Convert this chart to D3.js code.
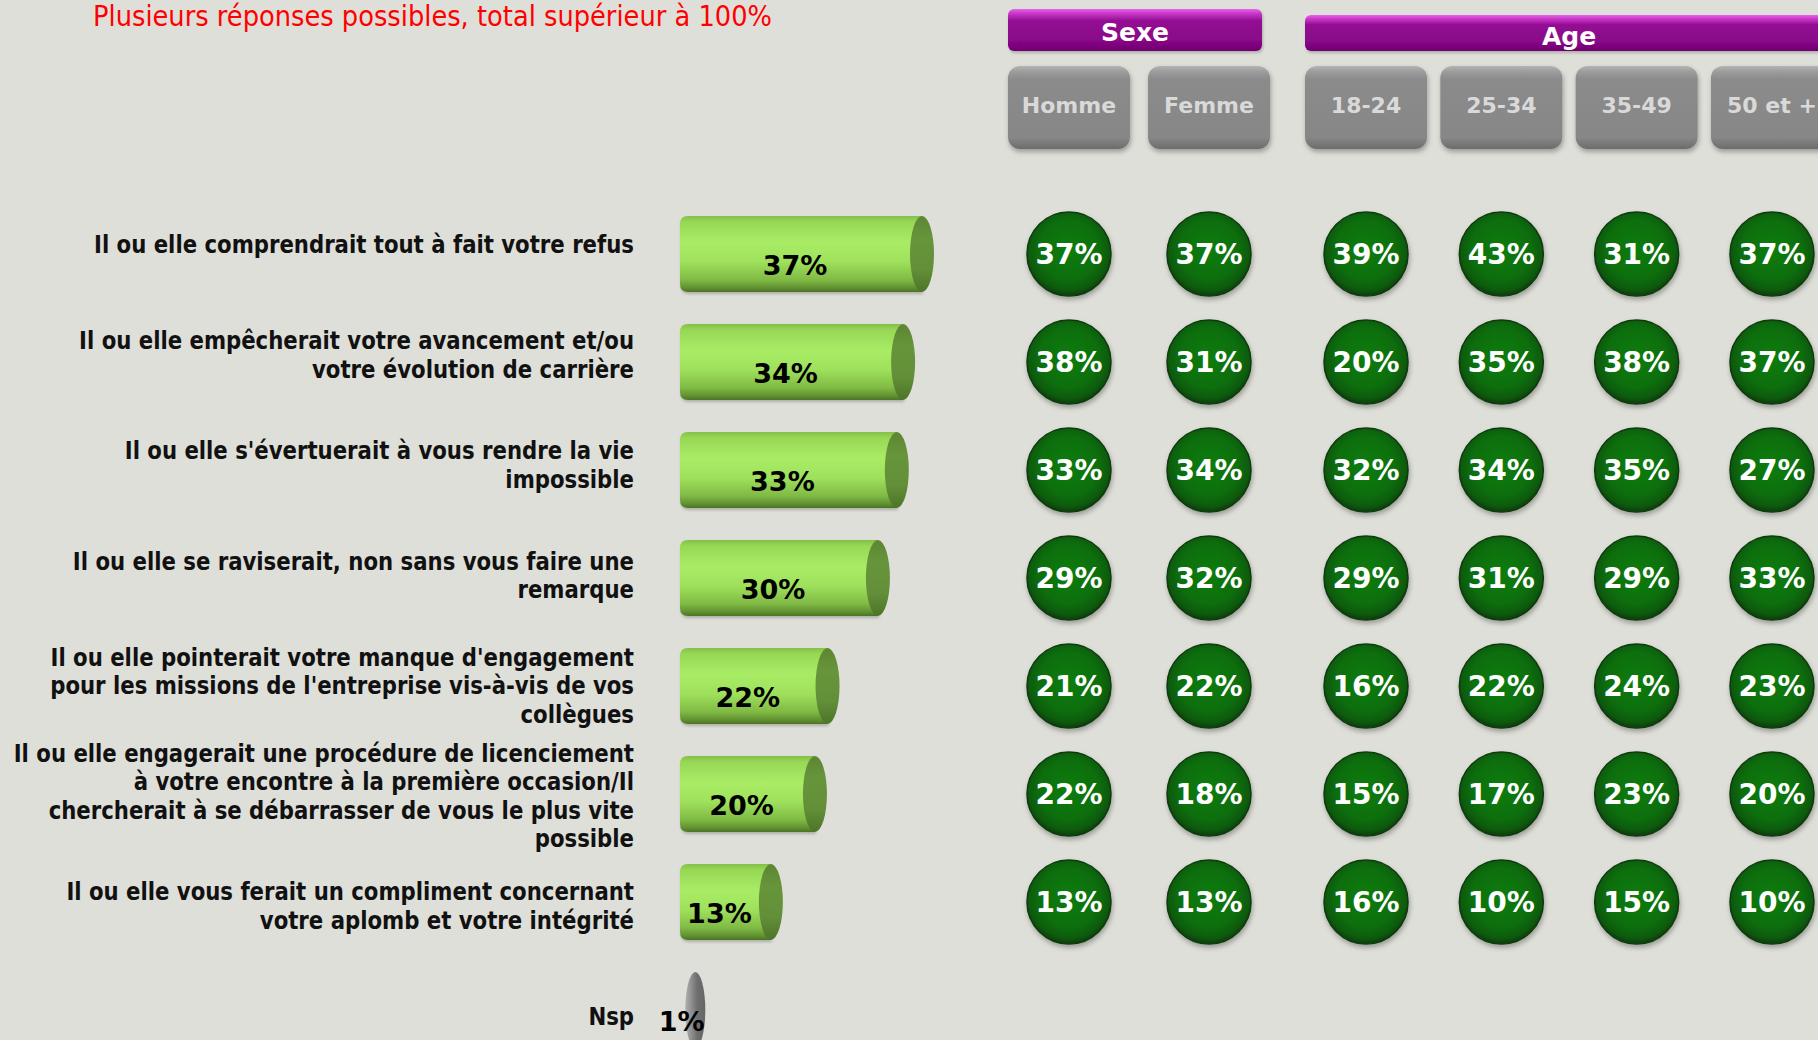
<!DOCTYPE html>
<html>
<head>
<meta charset="utf-8">
<script src="https://cdn.jsdelivr.net/npm/d3@7/dist/d3.min.js"></script>
<style>
  html, body { margin: 0; padding: 0; background: #dfdfd9; overflow: hidden; }
  svg { display: block; }
</style>
</head>
<body>
<div id="chart"></div>
<script>
const W = 1818, H = 1040;

// Data
const title = "Plusieurs réponses possibles, total supérieur à 100%";
const labels = [
  "Il ou elle comprendrait tout à fait votre refus",
  "Il ou elle empêcherait votre avancement et/ou\nvotre évolution de carrière",
  "Il ou elle s'évertuerait à vous rendre la vie\nimpossible",
  "Il ou elle se raviserait, non sans vous faire une\nremarque",
  "Il ou elle pointerait votre manque d'engagement\npour les missions de l'entreprise vis-à-vis de vos\ncollègues",
  "Il ou elle engagerait une procédure de licenciement\nà votre encontre à la première occasion/Il\nchercherait à se débarrasser de vous le plus vite\npossible",
  "Il ou elle vous ferait un compliment concernant\nvotre aplomb et votre intégrité",
  "Nsp"
];
const totals = [37, 34, 33, 30, 22, 20, 13, 1];

const sexeTitle = "Sexe";
const ageTitle = "Age";
const sexeCols = ["Homme", "Femme"];
const ageCols = ["18-24", "25-34", "35-49", "50 et +"];

const homme   = [37, 38, 33, 29, 21, 22, 13];
const femme   = [37, 31, 34, 32, 22, 18, 13];
const age1824 = [39, 20, 32, 29, 16, 15, 16];
const age2534 = [43, 35, 34, 31, 22, 17, 10];
const age3549 = [31, 38, 35, 29, 24, 23, 15];
const age50   = [37, 37, 27, 33, 23, 20, 10];

const sexeValues = [homme, femme];
const ageValues = [age1824, age2534, age3549, age50];

const FONT = "'DejaVu Sans', Verdana, sans-serif";

const svg = d3.select("#chart")
  .append("svg")
  .attr("width", W)
  .attr("height", H);

svg.append("rect").attr("width", W).attr("height", H).attr("fill", "#dfdfd9");

// Gradients and shadows
const defs = svg.append("defs");

function linearGrad(id, stops, vertical = true) {
  const g = defs.append("linearGradient").attr("id", id)
    .attr("x1", 0).attr("y1", 0)
    .attr("x2", vertical ? 0 : 1).attr("y2", vertical ? 1 : 0);
  stops.forEach(s => g.append("stop").attr("offset", s[0]).attr("stop-color", s[1]));
}

linearGrad("barBody", [[0, "#84c049"], [0.08, "#97d856"], [0.35, "#a9ec65"], [0.6, "#9fe15c"], [0.84, "#80ba44"], [0.95, "#5f8f30"], [1, "#4b7325"]]);
linearGrad("barCap", [[0, "#5c8632"], [0.3, "#67953b"], [0.7, "#628f38"], [1, "#4d7428"]]);
linearGrad("purple", [[0, "#e466e4"], [0.1, "#cc3acc"], [0.28, "#930d93"], [0.8, "#860686"], [1, "#6c056c"]]);
linearGrad("grayBtn", [[0, "#b4b4b4"], [0.07, "#9c9c9c"], [0.16, "#8b8b8b"], [0.86, "#878787"], [1, "#6c6c6c"]]);
linearGrad("nspCap", [[0, "#b0b0b0"], [0.35, "#8a8a8a"], [0.6, "#6e6e6e"], [1, "#666"]], false);

const rg = defs.append("radialGradient").attr("id", "ball")
  .attr("cx", "50%").attr("cy", "45%").attr("r", "55%");
[[0, "#0d7d0d"], [0.65, "#0b6e0b"], [0.88, "#095a09"], [1, "#0b3b0b"]]
  .forEach(s => rg.append("stop").attr("offset", s[0]).attr("stop-color", s[1]));

const shadow = defs.append("filter").attr("id", "shadow")
  .attr("x", "-20%").attr("y", "-20%").attr("width", "150%").attr("height", "160%");
shadow.append("feDropShadow").attr("dx", 1).attr("dy", 3).attr("stdDeviation", 2.5)
  .attr("flood-color", "#000").attr("flood-opacity", 0.3);

const softShadow = defs.append("filter").attr("id", "softShadow")
  .attr("x", "-10%").attr("y", "-20%").attr("width", "130%").attr("height", "150%");
softShadow.append("feDropShadow").attr("dx", 1).attr("dy", 2).attr("stdDeviation", 1.5)
  .attr("flood-color", "#000").attr("flood-opacity", 0.22);

// Scales
const rows = d3.range(labels.length);
const y = d3.scalePoint().domain(rows).range([254, 1010]);
const yLabel = d3.scalePoint().domain(rows).range([253, 1025]);
const x = d3.scaleLinear().domain([0, 37]).range([689, 922]);
const barLeft = 680;
const barH = 76;
const capRx = 12;

const xSexe = d3.scaleBand().domain(sexeCols).range([1008, 1270]).paddingInner(0.129);
const xAge = d3.scaleBand().domain(ageCols).range([1305, 1833]).paddingInner(0.098);

// Title
svg.append("text")
  .attr("x", 93)
  .attr("y", 26)
  .attr("font-family", FONT)
  .attr("font-size", "28px")
  .attr("fill", "#ff0000")
  .attr("textLength", 679)
  .attr("lengthAdjust", "spacingAndGlyphs")
  .text(title);

// Row labels
const labelG = svg.append("g");
rows.forEach(i => {
  const lines = labels[i].split("\n");
  const lh = 28.5;
  const base = yLabel(i) - (lines.length - 1) * lh / 2;
  const t = labelG.append("text")
    .attr("transform", `translate(634, ${base}) scale(0.885, 1)`)
    .attr("font-family", FONT)
    .attr("font-size", "24px")
    .attr("font-weight", "bold")
    .attr("fill", "#111")
    .attr("text-anchor", "end");
  lines.forEach((line, k) => {
    t.append("tspan").attr("x", 0).attr("y", k * lh).text(line);
  });
});

// Cylinder bars
const barG = svg.append("g");
rows.forEach(i => {
  const v = totals[i];
  const cy = y(i);
  const xe = x(v);
  const g = barG.append("g");
  if (i < labels.length - 1) {
    g.append("path")
      .attr("d", `M${xe},${cy - barH / 2} L${barLeft + 8},${cy - barH / 2} Q${barLeft},${cy - barH / 2} ${barLeft},${cy - barH / 2 + 8} L${barLeft},${cy + barH / 2 - 8} Q${barLeft},${cy + barH / 2} ${barLeft + 8},${cy + barH / 2} L${xe},${cy + barH / 2} Z`)
      .attr("fill", "url(#barBody)")
      .attr("filter", "url(#softShadow)");
    g.append("ellipse")
      .attr("cx", xe).attr("cy", cy)
      .attr("rx", capRx).attr("ry", barH / 2)
      .attr("fill", "url(#barCap)");
  } else {
    g.append("ellipse")
      .attr("cx", xe).attr("cy", cy)
      .attr("rx", 10).attr("ry", barH / 2)
      .attr("fill", "url(#nspCap)");
  }
  g.append("text")
    .attr("x", (barLeft + xe) / 2 - 6)
    .attr("y", cy + 21)
    .attr("font-family", FONT)
    .attr("font-size", "27px")
    .attr("font-weight", "bold")
    .attr("fill", "#000")
    .attr("text-anchor", "middle")
    .text(v + "%");
});

// Group headers
function drawHeader(name, x0, x1, y0, y1, baseline) {
  svg.append("rect")
    .attr("x", x0).attr("y", y0)
    .attr("width", x1 - x0).attr("height", y1 - y0)
    .attr("rx", 6).attr("ry", 6)
    .attr("fill", "url(#purple)")
    .attr("filter", "url(#softShadow)");
  svg.append("text")
    .attr("x", (x0 + x1) / 2)
    .attr("y", baseline)
    .attr("font-family", FONT)
    .attr("font-size", "25px")
    .attr("font-weight", "bold")
    .attr("fill", "#fff")
    .attr("text-anchor", "middle")
    .text(name);
}
drawHeader(sexeTitle, 1008, 1262, 9, 51, 41);
drawHeader(ageTitle, 1305, 1833, 15, 51, 45);

// Column buttons and balls
function drawColumns(scale, cols, values) {
  cols.forEach((c, j) => {
    const bx = scale(c);
    const bw = scale.bandwidth();
    svg.append("rect")
      .attr("x", bx).attr("y", 66)
      .attr("width", bw).attr("height", 83)
      .attr("rx", 12).attr("ry", 12)
      .attr("fill", "url(#grayBtn)")
      .attr("filter", "url(#shadow)");
    svg.append("text")
      .attr("x", bx + bw / 2)
      .attr("y", 113)
      .attr("font-family", FONT)
      .attr("font-size", "22px")
      .attr("font-weight", "bold")
      .attr("fill", "#d9d9d9")
      .attr("text-anchor", "middle")
      .text(c);

    const cx = bx + bw / 2;
    values[j].forEach((v, i) => {
      const cy = y(i);
      svg.append("circle")
        .attr("cx", cx).attr("cy", cy).attr("r", 42)
        .attr("fill", "url(#ball)")
        .attr("stroke", "#0c3a0c")
        .attr("stroke-width", 1.5)
        .attr("filter", "url(#shadow)");
      svg.append("text")
        .attr("x", cx)
        .attr("y", cy + 10)
        .attr("font-family", FONT)
        .attr("font-size", "28px")
        .attr("font-weight", "bold")
        .attr("fill", "#fff")
        .attr("text-anchor", "middle")
        .text(v + "%");
    });
  });
}
drawColumns(xSexe, sexeCols, sexeValues);
drawColumns(xAge, ageCols, ageValues);
</script>
</body>
</html>
